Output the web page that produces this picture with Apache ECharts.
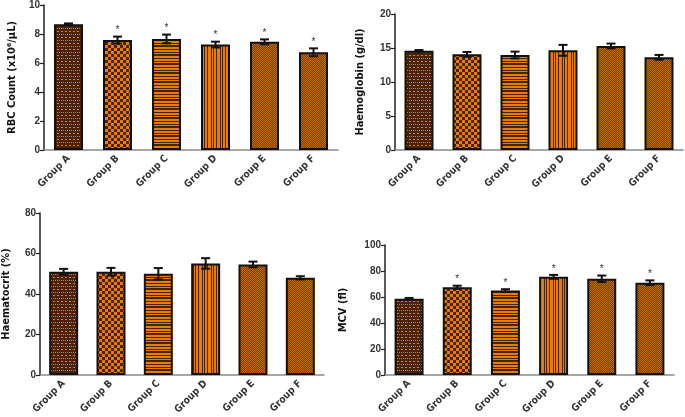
<!DOCTYPE html>
<html><head><meta charset="utf-8">
<script src="https://cdn.jsdelivr.net/npm/echarts@6/dist/echarts.min.js"></script>
<style>html,body{margin:0;padding:0;background:#fff}#c{width:685px;height:417px}</style>
</head><body><div id="c"></div>
<script>
var categories = ['Group A','Group B','Group C','Group D','Group E','Group F'];
var rbcMean = [8.68, 7.58, 7.66, 7.27, 7.46, 6.74];
var rbcErr  = [0.05, 0.24, 0.30, 0.20, 0.17, 0.27];
var rbcSig  = [0, 1, 1, 1, 1, 1];
var hbMean  = [14.58, 14.07, 13.97, 14.66, 15.30, 13.63];
var hbErr   = [0.12, 0.35, 0.50, 0.80, 0.35, 0.35];
var hbSig   = [0, 0, 0, 0, 0, 0];
var hctMean = [51.0, 51.0, 50.0, 55.1, 54.6, 48.0];
var hctErr  = [1.4, 1.9, 2.8, 2.6, 1.4, 0.8];
var hctSig  = [0, 0, 0, 0, 0, 0];
var mcvMean = [58.6, 67.5, 65.0, 75.5, 74.0, 71.0];
var mcvErr  = [0.7, 1.2, 1.0, 1.5, 2.5, 1.8];
var mcvSig  = [0, 1, 1, 1, 1, 1];
var yTitles = ['RBC Count (x10\u2076/\u00b5L)', 'Haemoglobin (g/dl)', 'Haematocrit (%)', 'MCV (fl)'];
var yMax = [10, 20, 80, 100];
var yInt = [2, 5, 20, 20];

var OR = '#e87c05', DK = '#4a2402';
function mk(w, h, draw){ var c=document.createElement('canvas'); c.width=w; c.height=h; var g=c.getContext('2d'); draw(g); return {image:c, repeat:'repeat'}; }
var patterns = [
  mk(4, 6, function(g){ g.fillStyle=DK; g.fillRect(0,0,4,6); g.fillStyle=OR; g.fillRect(1,1,2,1); g.fillRect(1,4,1,1); g.fillRect(3,4,1,1); }),
  mk(6, 6, function(g){ g.fillStyle=DK; g.fillRect(0,0,6,6); g.fillStyle=OR; g.fillRect(0,0,3,3); g.fillRect(3,3,3,3); }),
  mk(4, 9, function(g){ g.fillStyle=OR; g.fillRect(0,0,4,9); g.fillStyle=DK; g.fillRect(0,0,4,2); g.fillRect(0,4,4,1); g.fillRect(0,7,4,1); }),
  mk(9, 4, function(g){ g.fillStyle=OR; g.fillRect(0,0,9,4); g.fillStyle=DK; g.fillRect(0,0,1,4); g.fillRect(4,0,1,4); g.fillRect(6,0,1,4); }),
  mk(2, 2, function(g){ g.fillStyle='#7a3e08'; g.fillRect(0,0,2,2); g.fillStyle='#c06a10'; g.fillRect(0,0,1,1); g.fillRect(1,1,1,1); }),
  mk(2, 2, function(g){ g.fillStyle='#7a3e08'; g.fillRect(0,0,2,2); g.fillStyle='#c06a10'; g.fillRect(0,0,1,1); g.fillRect(1,1,1,1); })
];

var grids = [
  {left:44, top:5, width:294, height:145},
  {left:395, top:14, width:288, height:136},
  {left:35, top:213, width:289, height:164},
  {left:385, top:245, width:289, height:134}
];
var nameGaps = [26, 29, 28, 36];
var means = [rbcMean, hbMean, hctMean, mcvMean];
var errs = [rbcErr, hbErr, hctErr, mcvErr];
var sigs = [rbcSig, hbSig, hctSig, mcvSig];
var FN = '"Liberation Sans Narrow","DejaVu Sans Condensed","Liberation Sans",sans-serif';

var option = {animation:false, backgroundColor:'#fff', grid:[], xAxis:[], yAxis:[], series:[]};
for (var i=0;i<4;i++){
  option.grid.push(grids[i]);
  option.xAxis.push({type:'category', gridIndex:i, data:categories,
    axisLine:{lineStyle:{color:'#8a8a8a', width:1.5}},
    axisTick:{alignWithLabel:true, length:4, lineStyle:{color:'#222', width:1.2}},
    axisLabel:{rotate:45, interval:0, margin:7, fontSize:10, fontWeight:'bold', fontFamily:FN, color:'#333'}
  });
  option.yAxis.push({type:'value', gridIndex:i, min:0, max:yMax[i], interval:yInt[i],
    name:yTitles[i], nameLocation:'middle', nameGap:nameGaps[i], nameRotate:90,
    nameTextStyle:{fontSize:11, fontWeight:'bold', fontFamily:FN, color:'#111'},
    splitLine:{show:false},
    axisLine:{show:true, lineStyle:{color:'#222', width:1.5}},
    axisTick:{show:true, length:4, lineStyle:{color:'#222', width:1.2}},
    axisLabel:{fontSize:10, fontWeight:'bold', fontFamily:'"Liberation Sans",Arial,sans-serif', color:'#333', margin:4}
  });
  option.series.push({type:'bar', xAxisIndex:i, yAxisIndex:i, barWidth:29,
    data: means[i].map(function(v,k){ return {value:v, itemStyle:{color:patterns[k], borderColor:'#111', borderWidth:2}}; })
  });
  option.series.push({type:'custom', xAxisIndex:i, yAxisIndex:i, z:10,
    data: means[i].map(function(v,k){ return [k, v, errs[i][k], sigs[i][k]]; }),
    renderItem: function(params, api){
      var x = api.value(0), m = api.value(1), e = api.value(2), s = api.value(3);
      var hi = api.coord([x, m+e]), lo = api.coord([x, m-e]);
      var cw = 4.5;
      var ch = [
        {type:'line', shape:{x1:hi[0], y1:hi[1], x2:lo[0], y2:lo[1]}, style:{stroke:'#111', lineWidth:2}},
        {type:'line', shape:{x1:hi[0]-cw, y1:hi[1], x2:hi[0]+cw, y2:hi[1]}, style:{stroke:'#111', lineWidth:2}},
        {type:'line', shape:{x1:lo[0]-cw, y1:lo[1], x2:lo[0]+cw, y2:lo[1]}, style:{stroke:'#111', lineWidth:2}}
      ];
      if (s) ch.push({type:'text', style:{text:'*', x:hi[0], y:hi[1]-1, align:'center', verticalAlign:'bottom', fontSize:10, fontWeight:'normal', fill:'#333', fontFamily:'Liberation Sans'}});
      return {type:'group', children:ch};
    }
  });
}
var chart = echarts.init(document.getElementById('c'), null, {renderer:'canvas'});
chart.setOption(option);
</script></body></html>
